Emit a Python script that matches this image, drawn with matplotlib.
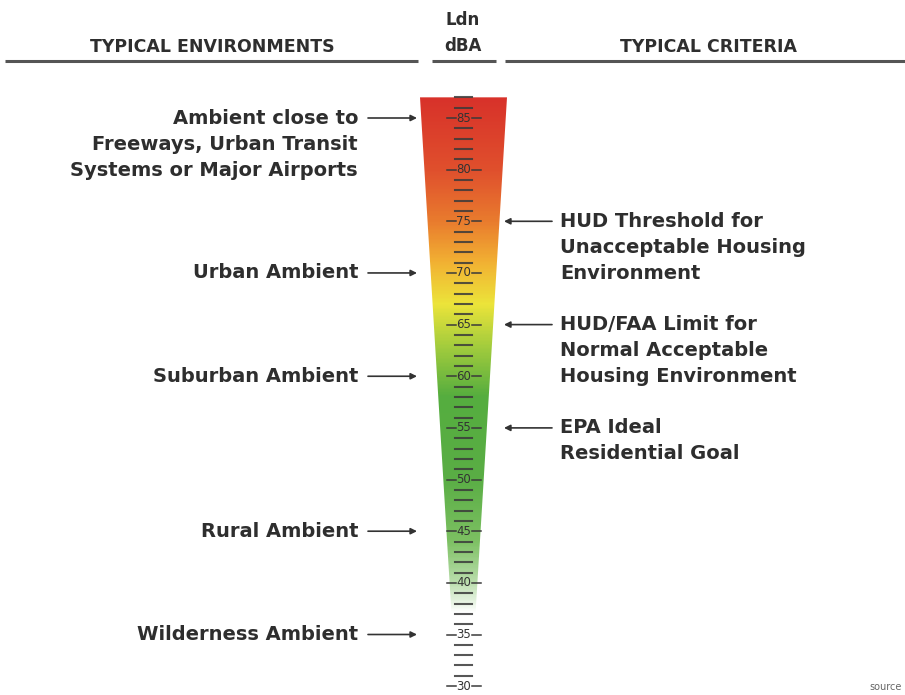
import numpy as np
import matplotlib
matplotlib.use("Agg")
import matplotlib.pyplot as plt
from matplotlib.colors import LinearSegmentedColormap
from matplotlib.patches import Polygon

# --- Dati ---
tick_values = [85, 80, 75, 70, 65, 60, 55, 50, 45, 40, 35, 30]
minor_values = list(range(31, 88))

env_labels = [
    ["Ambient close to", "Freeways, Urban Transit", "Systems or Major Airports"],
    ["Urban Ambient"],
    ["Suburban Ambient"],
    ["Rural Ambient"],
    ["Wilderness Ambient"],
]
env_levels = [85, 70, 60, 45, 35]

criteria_labels = [
    ["HUD Threshold for", "Unacceptable Housing", "Environment"],
    ["HUD/FAA Limit for", "Normal Acceptable", "Housing Environment"],
    ["EPA Ideal", "Residential Goal"],
]
criteria_levels = [75, 65, 55]

# colori del termometro (dB, colore)
color_db = [37.0, 40.0, 44.0, 50.0, 58.0, 63.0, 67.0, 71.0, 75.0, 80.0, 87.0]
color_hex = ["#ffffff", "#b9ddab", "#7cc062", "#5aae45", "#55ad3f", "#a5cd3d",
             "#ece43a", "#f2b233", "#e97c2e", "#e0502d", "#d8322a"]

# --- Figura ---
px_per_db = 10.33
y_top_px = 118.0
db_top = 85 + y_top_px / px_per_db
db_bot = 85 - (695 - y_top_px) / px_per_db

fig = plt.figure(figsize=(9.05, 6.95), dpi=100)
ax = fig.add_axes([0, 0, 1, 1])
ax.set_xlim(0, 905)
ax.set_ylim(db_bot, db_top)
ax.axis("off")

text_col = "#2e2e2e"
fnt = dict(family="DejaVu Sans", weight="bold", color=text_col)

# termometro a gradiente
cx = 463.5
gauge_top = 87.0
gauge_bot = 37.0
half_top = 43.5
half_bot = 12.0
poly = Polygon([(cx - half_top, gauge_top), (cx + half_top, gauge_top),
                (cx + half_bot, gauge_bot), (cx - half_bot, gauge_bot)],
               closed=True, facecolor="none", edgecolor="none")
ax.add_patch(poly)
pos = [(d - color_db[0]) / (color_db[-1] - color_db[0]) for d in color_db]
cmap = LinearSegmentedColormap.from_list("ldn", list(zip(pos, color_hex)))
grad = np.linspace(gauge_bot, gauge_top, 400).reshape(-1, 1)
im = ax.imshow(grad, cmap=cmap, vmin=color_db[0], vmax=color_db[-1],
               extent=[cx - half_top, cx + half_top, gauge_bot, gauge_top],
               origin="lower", aspect="auto", interpolation="bilinear")
im.set_clip_path(poly)

# tacche minori
for v in minor_values:
    if v % 5 != 0:
        ax.plot([cx - 9, cx + 8], [v, v], color="#3a3a3a", lw=1.5, alpha=0.85)

# tacche principali con etichette
for v in tick_values:
    ax.plot([cx - 17, cx - 8], [v, v], color="#3a3a3a", lw=1.1)
    ax.plot([cx + 8, cx + 17], [v, v], color="#3a3a3a", lw=1.1)
    ax.text(cx, v, str(v), ha="center", va="center", fontsize=8.5,
            family="Liberation Sans Narrow", color="#333333")

# intestazioni
ax.text(212, db_top - 47 / px_per_db, "TYPICAL ENVIRONMENTS", ha="center",
        va="center", fontsize=12.5, **fnt)
ax.text(463, db_top - 20 / px_per_db, "Ldn", ha="center", va="center",
        fontsize=12, **fnt)
ax.text(463, db_top - 46 / px_per_db, "dBA", ha="center", va="center",
        fontsize=12, **fnt)
ax.text(708, db_top - 47 / px_per_db, "TYPICAL CRITERIA", ha="center",
        va="center", fontsize=12.5, **fnt)
y_rule = db_top - 61 / px_per_db
for x0, x1 in [(5, 418), (432, 496), (505, 905)]:
    ax.plot([x0, x1], [y_rule, y_rule], color="#555555", lw=2.2,
            solid_capstyle="butt")

# ambienti tipici (sinistra)
line_step = 26 / px_per_db
for lines, lvl in zip(env_labels, env_levels):
    for i, s in enumerate(lines):
        ax.text(358, lvl - i * line_step, s, ha="right", va="center",
                fontsize=14, **fnt)
    ax.annotate("", xy=(417, lvl), xytext=(368, lvl),
                arrowprops=dict(arrowstyle="-|>", color="#333333", lw=1.2,
                                mutation_scale=9, shrinkA=0, shrinkB=0))

# criteri tipici (destra)
for lines, lvl in zip(criteria_labels, criteria_levels):
    for i, s in enumerate(lines):
        ax.text(560, lvl - i * line_step, s, ha="left", va="center",
                fontsize=14, **fnt)
    ax.annotate("", xy=(504, lvl), xytext=(552, lvl),
                arrowprops=dict(arrowstyle="-|>", color="#333333", lw=1.2,
                                mutation_scale=9, shrinkA=0, shrinkB=0))

# nota fonte in basso a destra
ax.text(902, db_bot + 3 / px_per_db, "source", ha="right", va="bottom",
        fontsize=7, color="#666666")

fig.savefig("out.png", dpi=100, facecolor="white")
